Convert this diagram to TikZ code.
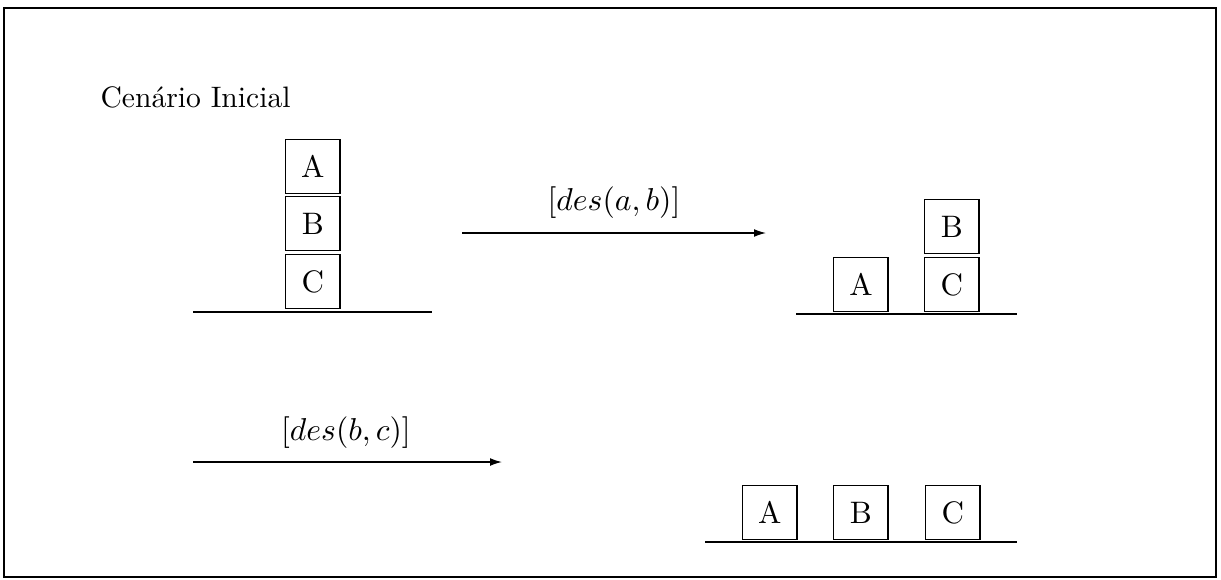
\documentclass[tikz,border=0pt]{standalone}
\usetikzlibrary{arrows.meta}
\begin{document}
\begin{tikzpicture}[x=0.338pt,y=-0.338pt,
  blockbox/.style={draw,line width=0.45pt,minimum width=18.4pt,minimum height=18.2pt,inner sep=0pt,anchor=north west,font=\fontsize{10.5}{12}\selectfont},
  ground/.style={line width=1pt},
  act/.style={line width=0.45pt,-{Latex[length=4pt,width=2.6pt]}},
  lbl/.style={inner sep=0pt}]
\useasboundingbox (0,0) rectangle (1221,579);
\draw[line width=0.7pt] (4,8) rectangle (1216,577);
\node[lbl,anchor=west] (title) at (100,97) {Cen\'ario Inicial};
% initial stack
\node[blockbox] (a1) at (285,139) {A};
\node[blockbox] (b1) at (285,196) {B};
\node[blockbox] (c1) at (285,254) {C};
\coordinate (g1l) at (193,312);
\coordinate (g1r) at (432,312);
\draw[ground] (g1l) -- (g1r);
% first action
\coordinate (ar1s) at (462,233);
\coordinate (ar1e) at (766,233);
\draw[act] (ar1s) -- (ar1e);
\node[lbl,scale=1.07] (l1) at (614,203) {$[des(a,b)]$};
% second state
\node[blockbox] (a2) at (833,257) {A};
\node[blockbox] (b2) at (924,199) {B};
\node[blockbox] (c2) at (924,257) {C};
\coordinate (g2l) at (796,314);
\coordinate (g2r) at (1017,314);
\draw[ground] (g2l) -- (g2r);
% second action
\coordinate (ar2s) at (193,462);
\coordinate (ar2e) at (502,462);
\draw[act] (ar2s) -- (ar2e);
\node[lbl,scale=1.07] (l2) at (346,433) {$[des(b,c)]$};
% final state
\node[blockbox] (a3) at (742,485) {A};
\node[blockbox] (b3) at (833,485) {B};
\node[blockbox] (c3) at (925,485) {C};
\coordinate (g3l) at (705,542);
\coordinate (g3r) at (1017,542);
\draw[ground] (g3l) -- (g3r);
\end{tikzpicture}
\end{document}
